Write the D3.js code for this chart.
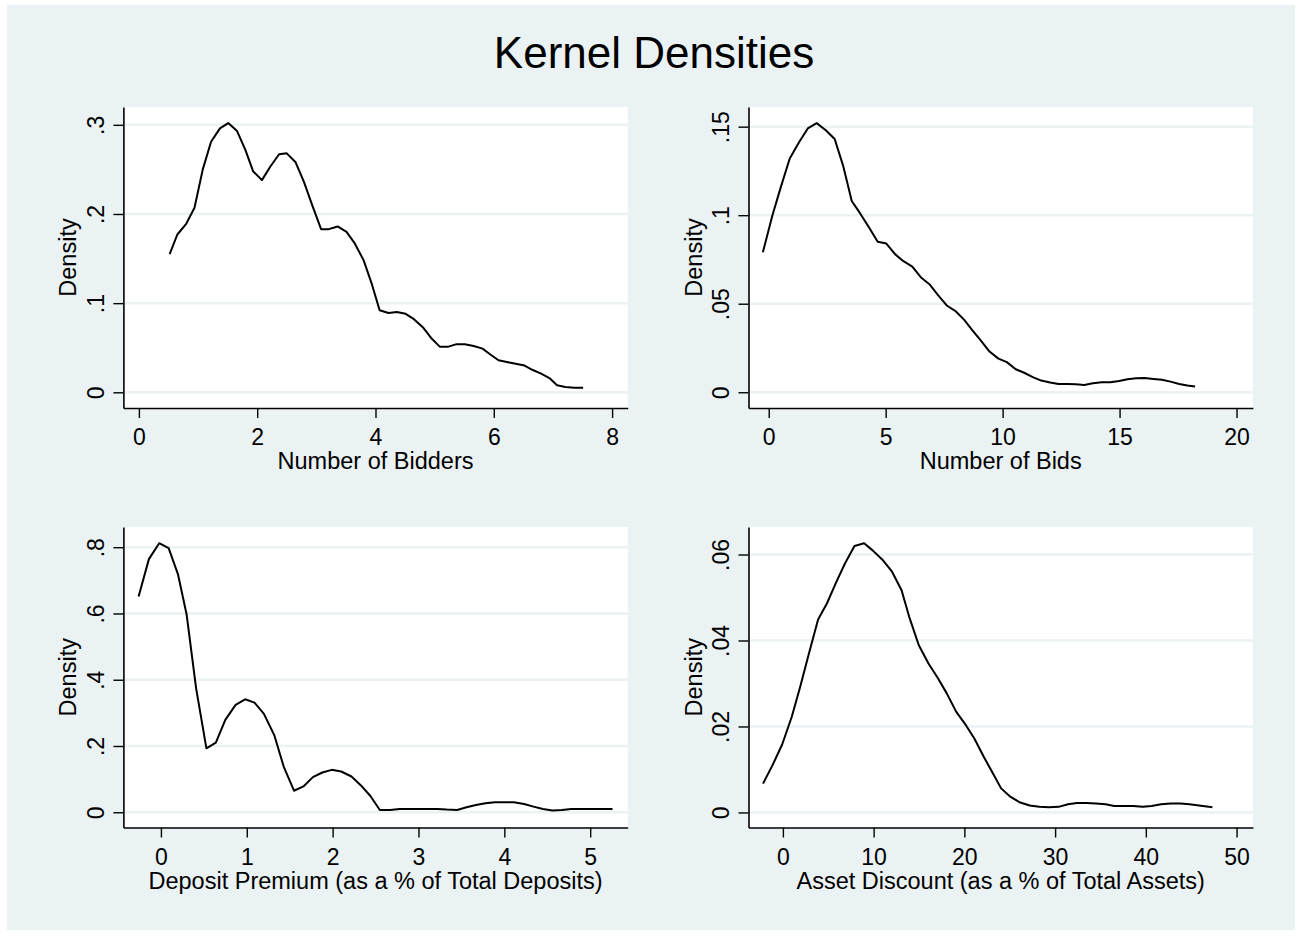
<!DOCTYPE html>
<html>
<head>
<meta charset="utf-8">
<script src="https://cdn.jsdelivr.net/npm/d3@7"></script>
<style>
  body { margin: 0; background: #ffffff; }
  text { font-family: "Liberation Sans", Arial, Helvetica, sans-serif; fill: #000; }
</style>
</head>
<body>
<svg id="chart" width="1302" height="938"></svg>
<script>
// Number of Bidders
const biddersX = [0.52, 0.65, 0.80, 0.94, 1.08, 1.22, 1.37, 1.51, 1.66, 1.80, 1.93, 2.08, 2.22, 2.37, 2.50, 2.65, 2.79, 2.93, 3.08, 3.21, 3.36, 3.51, 3.65, 3.80, 3.94, 4.07, 4.22, 4.36, 4.51, 4.65, 4.80, 4.94, 5.09, 5.22, 5.37, 5.51, 5.66, 5.81, 5.93, 6.08, 6.22, 6.37, 6.52, 6.66, 6.80, 6.94, 7.07, 7.21, 7.36, 7.51];
const biddersY = [0.155, 0.177, 0.189, 0.207, 0.250, 0.281, 0.296, 0.302, 0.293, 0.272, 0.248, 0.238, 0.253, 0.267, 0.268, 0.258, 0.236, 0.210, 0.183, 0.183, 0.186, 0.180, 0.167, 0.148, 0.121, 0.092, 0.089, 0.090, 0.088, 0.082, 0.073, 0.061, 0.051, 0.051, 0.054, 0.054, 0.052, 0.049, 0.043, 0.036, 0.034, 0.032, 0.030, 0.025, 0.021, 0.016, 0.008, 0.006, 0.005, 0.005];
const biddersXTicks = [0, 2, 4, 6, 8];
const biddersYTicks = [0, 0.1, 0.2, 0.3];

// Number of Bids
const bidsX = [-0.25, 0.16, 0.52, 0.90, 1.29, 1.67, 2.05, 2.44, 2.82, 3.18, 3.55, 3.91, 4.29, 4.66, 5.03, 5.40, 5.76, 6.14, 6.50, 6.87, 7.23, 7.61, 7.97, 8.35, 8.71, 9.08, 9.44, 9.82, 10.18, 10.56, 10.92, 11.29, 11.65, 12.03, 12.39, 12.77, 13.13, 13.49, 13.86, 14.24, 14.60, 14.98, 15.34, 15.71, 16.07, 16.45, 16.81, 17.18, 17.55, 17.90, 18.23];
const bidsY = [0.079, 0.100, 0.116, 0.132, 0.141, 0.149, 0.152, 0.148, 0.143, 0.128, 0.108, 0.101, 0.093, 0.085, 0.084, 0.078, 0.074, 0.071, 0.065, 0.061, 0.055, 0.049, 0.046, 0.041, 0.035, 0.029, 0.023, 0.019, 0.017, 0.013, 0.011, 0.0085, 0.0066, 0.0055, 0.0047, 0.0047, 0.0045, 0.0041, 0.0051, 0.0056, 0.0056, 0.0064, 0.0073, 0.0079, 0.0081, 0.0075, 0.0070, 0.0060, 0.0047, 0.0038, 0.0032];
const bidsXTicks = [0, 5, 10, 15, 20];
const bidsYTicks = [0, 0.05, 0.1, 0.15];

// Deposit Premium
const depositX = [-0.26, -0.14, -0.02, 0.09, 0.20, 0.30, 0.41, 0.53, 0.64, 0.75, 0.87, 0.98, 1.09, 1.20, 1.32, 1.43, 1.55, 1.66, 1.77, 1.88, 1.99, 2.10, 2.22, 2.33, 2.44, 2.55, 2.67, 2.78, 2.89, 3.00, 3.11, 3.22, 3.33, 3.45, 3.56, 3.67, 3.78, 3.89, 4.00, 4.11, 4.23, 4.34, 4.45, 4.56, 4.67, 4.78, 4.89, 5.00, 5.12, 5.26];
const depositY = [0.651, 0.764, 0.812, 0.797, 0.717, 0.596, 0.374, 0.193, 0.210, 0.279, 0.324, 0.341, 0.331, 0.297, 0.233, 0.138, 0.065, 0.078, 0.106, 0.120, 0.128, 0.123, 0.108, 0.081, 0.049, 0.007, 0.007, 0.010, 0.010, 0.010, 0.010, 0.010, 0.008, 0.007, 0.015, 0.022, 0.027, 0.030, 0.030, 0.030, 0.025, 0.017, 0.010, 0.005, 0.007, 0.010, 0.010, 0.010, 0.010, 0.010];
const depositXTicks = [0, 1, 2, 3, 4, 5];
const depositYTicks = [0, 0.2, 0.4, 0.6, 0.8];

// Asset Discount
const assetX = [-2.19, -1.14, -0.08, 0.97, 1.90, 2.87, 3.88, 4.85, 5.82, 6.84, 7.89, 8.95, 9.92, 10.97, 12.03, 13.08, 13.92, 14.98, 16.03, 17.09, 18.06, 19.11, 20.17, 21.10, 22.15, 23.20, 24.05, 25.10, 26.16, 27.20, 28.27, 29.30, 30.38, 31.43, 32.40, 33.46, 34.50, 35.57, 36.50, 37.55, 38.60, 39.66, 40.63, 41.69, 42.74, 43.80, 44.81, 45.86, 47.34];
const assetY = [0.0067, 0.0110, 0.0158, 0.0222, 0.0292, 0.0370, 0.0449, 0.0486, 0.0533, 0.0579, 0.0620, 0.0626, 0.0609, 0.0588, 0.0560, 0.0517, 0.0455, 0.0389, 0.0347, 0.0312, 0.0277, 0.0234, 0.0203, 0.0172, 0.0129, 0.0089, 0.0056, 0.0036, 0.0023, 0.0016, 0.0013, 0.0012, 0.0013, 0.0019, 0.0022, 0.0022, 0.0021, 0.0019, 0.0015, 0.0015, 0.0015, 0.0013, 0.0015, 0.0019, 0.0021, 0.0021, 0.0019, 0.0016, 0.0012];
const assetXTicks = [0, 10, 20, 30, 40, 50];
const assetYTicks = [0, 0.02, 0.04, 0.06];

const BG = "#eaf2f3";
const svg = d3.select("#chart");

// graph region
svg.append("rect")
  .attr("x", 7).attr("y", 5)
  .attr("width", 1288).attr("height", 925)
  .attr("fill", BG);

svg.append("text")
  .attr("x", 654)
  .attr("y", 68)
  .attr("text-anchor", "middle")
  .style("font-size", "44px")
  .text("Kernel Densities");

const yFormat = (d) => (d === 0 ? "0" : d3.format("~g")(d).replace(/^0/, ""));

function drawPanel(p) {
  const x = d3.scaleLinear().domain(p.xDomain).range([p.left, p.right]);
  const y = d3.scaleLinear().domain(p.yDomain).range([p.bottom, p.top]);
  const g = svg.append("g");

  g.append("rect")
    .attr("x", p.left).attr("y", p.top)
    .attr("width", p.right - p.left).attr("height", p.bottom - p.top)
    .attr("fill", "#ffffff");

  // horizontal grid lines
  g.selectAll(".grid")
    .data(p.yTicks)
    .enter()
    .append("line")
    .attr("x1", p.left).attr("x2", p.right)
    .attr("y1", (d) => y(d)).attr("y2", (d) => y(d))
    .attr("stroke", BG)
    .attr("stroke-width", 2.5);

  const line = d3.line()
    .x((d) => x(d[0]))
    .y((d) => y(d[1]));

  g.append("path")
    .datum(p.xs.map((v, i) => [v, p.ys[i]]))
    .attr("d", line)
    .attr("fill", "none")
    .attr("stroke", "#000")
    .attr("stroke-width", 2)
    .attr("stroke-linejoin", "round");

  // axes
  const xAxis = g.append("g")
    .attr("transform", `translate(0,${p.bottom})`)
    .call(d3.axisBottom(x).tickValues(p.xTicks).tickFormat(d3.format("d")).tickSize(10).tickSizeOuter(0));
  xAxis.select(".domain").attr("stroke-width", 1.6);
  xAxis.selectAll(".tick line").attr("stroke-width", 1.4);
  xAxis.selectAll(".tick text")
    .attr("dy", null)
    .attr("y", 37)
    .style("font-size", "23px")
    .attr("font-family", null);

  const yAxis = g.append("g")
    .attr("transform", `translate(${p.left},0)`)
    .call(d3.axisLeft(y).tickValues(p.yTicks).tickFormat(yFormat).tickSize(10).tickSizeOuter(0));
  yAxis.select(".domain").attr("stroke-width", 1.6);
  yAxis.selectAll(".tick line").attr("stroke-width", 1.4);
  yAxis.selectAll(".tick text")
    .attr("x", null)
    .attr("dy", null)
    .attr("text-anchor", "middle")
    .attr("transform", "translate(-19.5,0) rotate(-90)")
    .style("font-size", "23px")
    .attr("font-family", null);

  g.append("text")
    .attr("x", (p.left + p.right) / 2)
    .attr("y", p.bottom + 61)
    .attr("text-anchor", "middle")
    .style("font-size", "23.5px")
    .text(p.xLabel);

  g.append("text")
    .attr("transform", `translate(${p.left - 47},${(p.top + p.bottom) / 2}) rotate(-90)`)
    .attr("text-anchor", "middle")
    .style("font-size", "23.5px")
    .text("Density");
}

drawPanel({
  xs: biddersX, ys: biddersY, xTicks: biddersXTicks, yTicks: biddersYTicks,
  xDomain: [-0.262, 8.264], yDomain: [-0.0176, 0.320],
  left: 123.4, right: 627.7, top: 107, bottom: 408,
  xLabel: "Number of Bidders",
});

drawPanel({
  xs: bidsX, ys: bidsY, xTicks: bidsXTicks, yTicks: bidsYTicks,
  xDomain: [-0.864, 20.7], yDomain: [-0.0089, 0.1611],
  left: 748.5, right: 1252.9, top: 107, bottom: 408,
  xLabel: "Number of Bids",
});

drawPanel({
  xs: depositX, ys: depositY, xTicks: depositXTicks, yTicks: depositYTicks,
  xDomain: [-0.437, 5.437], yDomain: [-0.046, 0.861],
  left: 123.4, right: 627.7, top: 527, bottom: 827.5,
  xLabel: "Deposit Premium (as a % of Total Deposits)",
});

drawPanel({
  xs: assetX, ys: assetY, xTicks: assetXTicks, yTicks: assetYTicks,
  xDomain: [-3.79, 51.8], yDomain: [-0.0035, 0.0664],
  left: 748.5, right: 1252.9, top: 527, bottom: 827.5,
  xLabel: "Asset Discount (as a % of Total Assets)",
});
</script>
</body>
</html>
